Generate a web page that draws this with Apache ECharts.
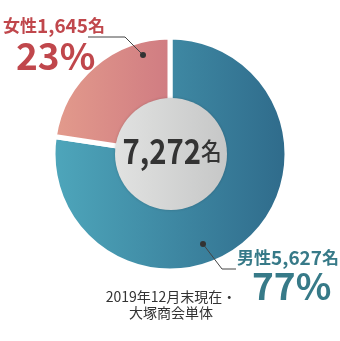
<!DOCTYPE html>
<html><head><meta charset="utf-8">
<script src="https://cdn.jsdelivr.net/npm/echarts@6/dist/echarts.min.js"></script>
<style>html,body{margin:0;padding:0;background:#fff}#c{width:340px;height:341px}</style>
</head><body><div id="c"></div>
<script>
var categories = ['男性', '女性'];
var counts = [5627, 1645];
var percents = ['77%', '23%'];
var totalLabel = '7,272';
var noteLines = ['2019年12月末現在・', '大塚商会単体'];

var chart = echarts.init(document.getElementById('c'), null, {renderer: 'canvas'});
var CX = 170, CY = 154, R = 117;
var jp = '"Noto Sans CJK JP", sans-serif';
function fmt(n){return n.toString().replace(/\B(?=(\d{3})+(?!\d))/g, ',');}

function hgrad(c0, c1){
  return new echarts.graphic.LinearGradient(CX-R, 0, CX+R, 0, [{offset:0,color:c0},{offset:1,color:c1}], true);
}
var grads = [hgrad('#4ea6bb', '#2f6b8b'), hgrad('#e39b8c', '#bd5d78')];
var red = '#c0474c', teal = '#377a88';

var option = {
  animation: false,
  series: [{
    type: 'pie',
    center: [CX, CY],
    radius: [0, R],
    startAngle: 90,
    clockwise: true,
    label: {show: false},
    labelLine: {show: false},
    emphasis: {disabled: true},
    itemStyle: {borderColor: '#fff', borderWidth: 5},
    data: categories.map(function(c, i){
      return {name: c, value: counts[i], itemStyle: {color: grads[i]}};
    })
  }],
  graphic: [
    {type: 'circle', z: 100, shape: {cx: CX + 1, cy: CY, r: 56},
     style: {fill: new echarts.graphic.LinearGradient(0,0,1,0,[{offset:0,color:'#e1e2e1'},{offset:1,color:'#c6c7c7'}]),
             shadowBlur: 3, shadowColor: 'rgba(0,0,0,0.18)'}},
    {type: 'text', z: 101, x: CX + 2, y: 168, scaleX: 0.86, style: {
      text: '{n|' + totalLabel + '}{u|名}', align: 'center', verticalAlign: 'bottom',
      rich: {n: {font: 'bold 34px ' + jp, fill: '#333'}, u: {font: '500 24px ' + jp, fill: '#333'}}
    }},
    // female label
    {type: 'polyline', z: 100, shape: {points: [[88, 37], [125, 37], [143, 55]]}, style: {stroke: '#444', lineWidth: 1, fill: null}},
    {type: 'circle', z: 100, shape: {cx: 143, cy: 55, r: 3}, style: {fill: '#333'}},
    {type: 'text', z: 100, x: 3, y: 35, style: {
      text: '{a|' + categories[1] + '}{b|' + fmt(counts[1]) + '}{a|名}', verticalAlign: 'bottom',
      rich: {a: {font: 'bold 17px ' + jp, fill: red}, b: {font: 'bold 19px ' + jp, fill: red}}
    }},
    {type: 'text', z: 100, x: 16, y: 74, style: {text: percents[1], verticalAlign: 'bottom', font: 'bold 37px ' + jp, fill: red}},
    // male label
    {type: 'polyline', z: 100, shape: {points: [[203, 244], [222, 269], [236, 269]]}, style: {stroke: '#444', lineWidth: 1, fill: null}},
    {type: 'circle', z: 100, shape: {cx: 203, cy: 244, r: 3}, style: {fill: '#333'}},
    {type: 'text', z: 100, x: 237, y: 267, style: {
      text: '{a|' + categories[0] + '}{b|' + fmt(counts[0]) + '}{a|名}', verticalAlign: 'bottom',
      rich: {a: {font: 'bold 17px ' + jp, fill: teal}, b: {font: 'bold 19px ' + jp, fill: teal}}
    }},
    {type: 'text', z: 100, x: 252, y: 304, style: {text: percents[0], verticalAlign: 'bottom', font: 'bold 37px ' + jp, fill: teal}},
    // note
    {type: 'text', z: 100, x: 171, y: 297, style: {text: noteLines[0], align: 'center', verticalAlign: 'middle', font: '14px ' + jp, fill: '#333'}},
    {type: 'text', z: 100, x: 171, y: 313, style: {text: noteLines[1], align: 'center', verticalAlign: 'middle', font: '14px ' + jp, fill: '#333'}}
  ]
};
chart.setOption(option);
</script></body></html>
